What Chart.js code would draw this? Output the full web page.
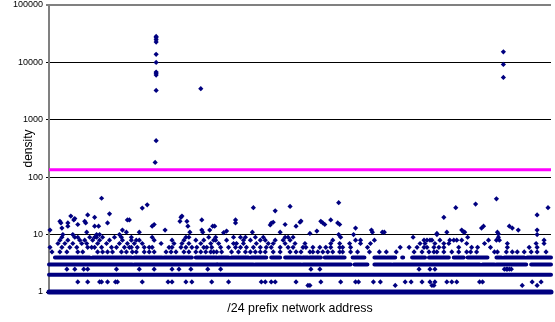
<!DOCTYPE html>
<html lang="en">
<head>
<meta charset="UTF-8">
<title>/24 prefix density</title>
<script src="https://cdn.jsdelivr.net/npm/chart.js@4.4.0/dist/chart.umd.min.js"></script>
<style>
  html, body { margin: 0; padding: 0; background: #fff; }
  #wrap { width: 555px; height: 322px; }
</style>
</head>
<body>
<div id="wrap"><canvas id="densityChart" width="555" height="322"></canvas></div>
<script>
// y axis labels (log scale, one per decade)
var yTicks = [1, 10, 100, 1000, 10000, 100000];
var xMax = 506; // addresses shown along x
var threshold = 135; // magenta cut-off line

// dense rows, given as [from, to] runs of addresses
var row1 = [[0, 506]];
var row2 = [[0, 506]];
var row3 = [[0, 84], [86, 169], [170, 206], [208, 254], [256, 304], [308, 321], [328, 345],
            [347, 434], [437, 449], [451, 481], [486, 506]];
var row4 = [[6, 41], [44, 83], [86, 114], [116, 144], [148, 169], [171, 181], [184, 201], [204, 219],
            [224, 233], [238, 254], [256, 261], [263, 274], [278, 298], [306, 318], [328, 339],
            [341, 349], [356, 357], [366, 379], [383, 403], [408, 418], [422, 442], [451, 456],
            [459, 479], [482, 506]];

// sparse points sitting on one density level (x positions)
var at1_3 = [261, 263, 349, 386, 388, 477, 492];
var at1_5 = [29, 39, 51, 53, 59, 67, 69, 94, 120, 124, 138, 144, 164, 181, 214, 218, 224, 228, 249,
             274, 294, 309, 312, 327, 334, 359, 365, 376, 384, 389, 401, 406, 411, 434, 437, 487, 496];
var at2_5 = [18, 26, 35, 39, 68, 91, 106, 124, 131, 143, 160, 173, 264, 273, 373, 384, 389,
             459, 461, 462, 464, 466];
var at5 = [3, 11, 18, 29, 34, 49, 54, 59, 64, 73, 78, 84, 88, 96, 101, 106, 118, 123, 128, 136, 141,
           148, 153, 158, 163, 166, 169, 174, 184, 191, 198, 203, 208, 213, 218, 226, 233, 243, 249,
           254, 263, 266, 271, 276, 281, 286, 293, 296, 304, 311, 323, 333, 340, 350, 368, 376, 383,
           388, 391, 398, 406, 413, 421, 425, 431, 449, 452, 461, 467, 472, 479, 486, 492, 501];
var at6 = [1, 13, 21, 28, 39, 43, 46, 53, 63, 68, 76, 81, 83, 89, 96, 101, 104, 121, 124, 133, 138,
           144, 149, 156, 159, 164, 173, 181, 188, 193, 199, 206, 213, 219, 224, 233, 241, 246, 256,
           259, 266, 273, 279, 284, 293, 296, 304, 321, 354, 363, 371, 378, 381, 388, 393, 398, 413,
           426, 432, 445, 462, 484, 492];
var at7 = [9, 16, 24, 33, 38, 49, 58, 71, 79, 86, 94, 113, 126, 134, 141, 153, 163, 171, 186, 189,
           196, 209, 221, 226, 238, 248, 258, 284, 293, 303, 314, 324, 374, 379, 389, 398, 403, 421,
           439, 462, 491, 499];
var at8 = [11, 19, 31, 36, 44, 51, 61, 74, 83, 88, 91, 106, 124, 136, 148, 156, 166, 168, 179, 196,
           203, 213, 218, 228, 236, 243, 286, 309, 314, 328, 378, 381, 384, 386, 394, 404, 408, 411,
           416, 443, 451, 454, 499];
var at9 = [13, 26, 29, 41, 46, 48, 54, 66, 73, 83, 104, 138, 141, 161, 168, 186, 193, 198, 208, 216,
           238, 241, 246, 294, 367, 422, 453];
var at10 = [14, 24, 48, 51, 71, 292, 307, 391, 492];

// points above 10
var highX = [1, 11, 12, 13, 19, 19, 22, 25, 26, 39, 46, 36, 37, 46, 50, 61, 59, 74, 78, 79, 53, 29, 38,
             94, 99, 81, 104, 106, 91, 117, 133, 134, 132, 139, 140, 154, 154, 155, 162, 165, 142,
             206, 228, 243, 188, 188, 176, 179, 223, 224, 226, 238, 253, 254, 249, 205, 233, 167,
             292, 274, 276, 278, 284, 291, 293, 270, 263, 309, 325, 326, 336, 338,
             410, 398, 416, 418, 401, 391, 430, 451, 492, 503, 436, 438, 464, 467, 473, 452, 453, 492, 419];
var highY = [12, 17, 16, 13, 16, 14, 21, 18, 19, 22, 20, 17, 16, 14, 14, 23, 16, 12, 11, 18, 43, 15, 11,
             29, 33, 18, 14, 15, 11, 12, 20, 21, 17, 17, 14, 18, 12, 11, 12, 14, 11,
             29.5, 26, 31, 18, 16, 10.8, 11.5, 14.7, 15.8, 16.4, 15, 16.4, 17.2, 14, 11, 11, 14,
             36, 17, 16, 15, 18, 16, 15, 11.5, 10.5, 13, 12, 11, 11, 11,
             29.5, 20, 12, 11, 11, 10.5, 34, 42, 22, 29.5, 13, 14, 14, 13, 12, 11, 10.2, 12, 11];

// the big outliers
var outX = [108, 108, 108, 108, 108, 108, 108, 108, 108, 108, 108, 107, 153, 458, 458, 458];
var outY = [28400, 26900, 24800, 22600, 13800, 10000, 6780, 6500, 6010, 3250, 432, 181, 3480,
            15300, 9230, 5480];

var navy = '#000080';
var fontFamily = '"Liberation Sans", Arial, sans-serif';

function runs(list, v) {
  var out = [];
  list.forEach(function (r) {
    out.push({x: r[0], y: v}, {x: r[1], y: v}, {x: r[1], y: null});
  });
  return out;
}

function level(xs, v) {
  return xs.map(function (x) { return {x: x, y: v}; });
}

function bandSet(list, v, w) {
  return {
    type: 'line', data: runs(list, v), borderColor: navy, borderWidth: w,
    borderCapStyle: 'round', pointRadius: 0, spanGaps: false, tension: 0, fill: false, clip: false
  };
}

var pts = []
  .concat(level(at1_3, 1.3), level(at1_5, 1.5), level(at2_5, 2.5))
  .concat(level(at5, 5), level(at6, 6), level(at7, 7), level(at8, 8), level(at9, 9), level(at10, 10))
  .concat(highX.map(function (x, i) { return {x: x, y: highY[i]}; }))
  .concat(outX.map(function (x, i) { return {x: x, y: outY[i]}; }));

var ctx = document.getElementById('densityChart');
var chart = new Chart(ctx, {
  type: 'scatter',
  data: {
    datasets: [
      bandSet(row1, 1, 5),
      bandSet(row2, 2, 4),
      bandSet(row3, 3, 4),
      bandSet(row4, 4, 4),
      {
        data: pts, backgroundColor: navy, borderWidth: 0,
        pointStyle: 'rectRot', pointRadius: 2.6, clip: false
      },
      {
        type: 'line', data: [{x: 0, y: threshold}, {x: xMax, y: threshold}],
        borderColor: '#ff00ff', borderWidth: 3, pointRadius: 0, fill: false, clip: false
      }
    ]
  },
  options: {
    responsive: false,
    animation: false,
    events: [],
    layout: {padding: {top: 5, left: 0, right: 0, bottom: 0}},
    plugins: {legend: {display: false}, tooltip: {enabled: false}},
    scales: {
      x: {
        type: 'linear', min: 0, max: xMax,
        ticks: {display: false},
        grid: {display: false},
        border: {display: false},
        title: {
          display: true, text: '/24 prefix network address', color: '#000',
          font: {family: fontFamily, size: 12.4}, padding: {top: 0, bottom: 6}
        },
        afterFit: function (s) { s.height = 30; }
      },
      y: {
        type: 'logarithmic', min: 1, max: 100000,
        afterBuildTicks: function (s) {
          s.ticks = yTicks.map(function (v) { return {value: v}; });
        },
        ticks: {
          autoSkip: false, color: '#000', padding: 3,
          font: {family: fontFamily, size: 9},
          callback: function (v) { return String(v); }
        },
        grid: {
          color: function (c) { return c.tick && c.tick.value === 100000 ? '#808080' : '#000'; },
          lineWidth: function (c) { return c.tick && c.tick.value === 100000 ? 2 : 1; },
          tickLength: 3
        },
        border: {color: '#808080', width: 2},
        title: {
          display: true, text: 'density', color: '#000',
          font: {family: fontFamily, size: 12}, padding: {top: 21, bottom: 0}
        },
        afterFit: function (s) {
          s.width = 49;
          s.paddingTop = 0;
          s.paddingBottom = 0;
        }
      }
    }
  }
});
</script>
</body>
</html>
